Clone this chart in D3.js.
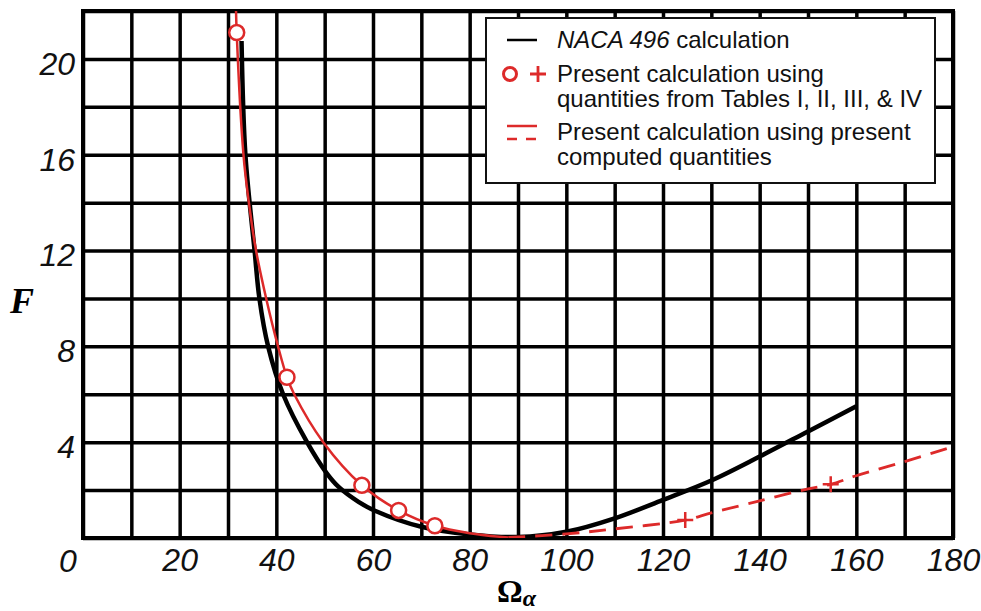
<!DOCTYPE html>
<html>
    <head>
        <meta charset="UTF-8"/>
        <style>
            body { margin: 0; background: #fff; }
            .tick text { font-family: "Liberation Sans", Arial, sans-serif; font-style: italic; }
            .legend text { font-family: "Liberation Sans", Arial, sans-serif; font-size: 24px; fill: #111; }
        </style>
    </head>
    <body>
        <svg width="981" height="611"></svg>
        <script src="https://d3js.org/d3.v7.min.js" type="text/javascript"></script>
        <script>
            // tick values
            let xGrid = d3.range(0, 181, 10);
            let yGrid = d3.range(0, 23, 2);
            let xLabels = [20, 40, 60, 80, 100, 120, 140, 160, 180];
            let yLabels = [4, 8, 12, 16, 20];

            // NACA 496 calculation (black)
            let nacaOmega = [32.8, 33.6, 35.5, 36.5, 38.3, 41.4, 46.35, 50.4, 53, 57, 60.4, 70, 80, 90, 100, 110, 120, 130, 140, 150, 160];
            let nacaF = [20.75, 16, 12, 10, 8, 6, 4, 2.71, 2.11, 1.51, 1.14, 0.47, 0.15, 0.04, 0.26, 0.82, 1.59, 2.4, 3.4, 4.45, 5.5];

            // present calculation, Tables I-IV (red solid)
            let tableOmega = [31.6, 31.8, 33.2, 34.25, 35.8, 37.9, 40.35, 42.2, 43.7, 49.7, 57.7, 65.3, 72.8, 80, 88];
            let tableF = [22.6, 21.1, 16, 14.1, 12, 10, 8, 6.71, 6, 4, 2.2, 1.15, 0.51, 0.2, 0.02];
            let circleOmega = [31.8, 42.2, 57.7, 65.3, 72.8];
            let circleF = [21.1, 6.71, 2.2, 1.15, 0.51];

            // present calculation, computed quantities (red dashed)
            let compOmega = [88, 100, 110, 124.6, 130, 140, 150, 154.7, 160, 170, 180];
            let compF = [0.02, 0.17, 0.38, 0.75, 1.05, 1.55, 2.05, 2.24, 2.6, 3.19, 3.81];
            let plusOmega = [124.6, 154.7];
            let plusF = [0.75, 2.24];

            let red = "#dd2a2a";
            let svg = d3.select("svg");
            let pLeft = 83, pRight = 953, pTop = 11, pBottom = 538;

            let x = d3.scaleLinear().domain([0, 180]).range([pLeft, pRight]);
            let y = d3.scaleLinear().domain([0, 22]).range([pBottom, pTop]);

            // grid
            let gx = svg.append("g")
                .attr("transform", "translate(0," + pBottom + ")")
                .call(d3.axisBottom(x).tickValues(xGrid).tickSize(-(pBottom - pTop)).tickFormat(""));
            let gy = svg.append("g")
                .attr("transform", "translate(" + pLeft + ",0)")
                .call(d3.axisLeft(y).tickValues(yGrid).tickSize(-(pRight - pLeft)).tickFormat(""));
            [gx, gy].forEach(function(g) {
                g.select(".domain").remove();
                g.selectAll("line").attr("stroke", "#000").attr("stroke-width", 3.5);
            });
            svg.append("rect")
                .attr("x", pLeft).attr("y", pTop)
                .attr("width", pRight - pLeft).attr("height", pBottom - pTop)
                .attr("fill", "none").attr("stroke", "#000").attr("stroke-width", 4);

            // tick labels
            let lx = svg.append("g")
                .attr("transform", "translate(0," + pBottom + ")")
                .call(d3.axisBottom(x).tickValues(xLabels).tickSize(0).tickPadding(10));
            let ly = svg.append("g")
                .attr("transform", "translate(" + (pLeft - 8) + ",0)")
                .call(d3.axisLeft(y).tickValues(yLabels).tickSize(0).tickPadding(0));
            [lx, ly].forEach(function(g) {
                g.select(".domain").remove();
                g.selectAll("text").attr("font-size", 32).attr("fill", "#111");
            });
            lx.selectAll("text").attr("dy", "0.72em");
            ly.selectAll("text").attr("dy", "0.48em");
            svg.append("text")
                .attr("x", x(0) - 15).attr("y", 572)
                .attr("text-anchor", "middle")
                .style("font-family", "Liberation Sans").style("font-style", "italic")
                .attr("font-size", 32).attr("fill", "#111")
                .text("0");

            // axis titles
            svg.append("text")
                .attr("x", 22).attr("y", 313)
                .attr("text-anchor", "middle")
                .style("font-family", "Liberation Serif").style("font-style", "italic").style("font-weight", "bold")
                .attr("font-size", 36)
                .text("F");
            let om = svg.append("text")
                .attr("x", 497).attr("y", 602)
                .style("font-family", "Liberation Serif").style("font-weight", "bold")
                .attr("font-size", 32);
            om.append("tspan").text("Ω");
            om.append("tspan").attr("dy", 4).attr("font-size", 24).style("font-style", "italic").text("α");

            // curves
            svg.append("clipPath").attr("id", "plot")
                .append("rect").attr("x", pLeft).attr("y", pTop)
                .attr("width", pRight - pLeft).attr("height", pBottom - pTop);
            let plot = svg.append("g").attr("clip-path", "url(#plot)");
            let line = d3.line()
                .x(function(d) { return x(d[0]); })
                .y(function(d) { return y(d[1]); })
                .curve(d3.curveCatmullRom.alpha(0.5));

            plot.append("path")
                .attr("d", line(d3.zip(nacaOmega, nacaF)))
                .attr("fill", "none").attr("stroke", "#000").attr("stroke-width", 4.5);
            plot.append("path")
                .attr("d", line(d3.zip(compOmega, compF)))
                .attr("fill", "none").attr("stroke", red).attr("stroke-width", 2.8)
                .attr("stroke-dasharray", "17,10");
            plot.append("path")
                .attr("d", line(d3.zip(tableOmega, tableF)))
                .attr("fill", "none").attr("stroke", red).attr("stroke-width", 2.5);

            svg.selectAll(".pt")
                .data(d3.zip(circleOmega, circleF))
                .enter().append("circle")
                .attr("class", "pt")
                .attr("cx", function(d) { return x(d[0]); })
                .attr("cy", function(d) { return y(d[1]); })
                .attr("r", 7.5)
                .attr("fill", "#fff").attr("stroke", red).attr("stroke-width", 2.5);

            svg.selectAll(".plus")
                .data(d3.zip(plusOmega, plusF))
                .enter().append("path")
                .attr("class", "plus")
                .attr("d", function(d) {
                    let cx = x(d[0]), cy = y(d[1]);
                    return "M" + (cx - 8) + "," + cy + "H" + (cx + 8) + "M" + cx + "," + (cy - 8) + "V" + (cy + 8);
                })
                .attr("stroke", red).attr("stroke-width", 2.5);

            // legend
            let lg = svg.append("g").attr("class", "legend");
            lg.append("rect")
                .attr("x", 486).attr("y", 18).attr("width", 449).attr("height", 165)
                .attr("fill", "#fff").attr("stroke", "#111").attr("stroke-width", 2);
            lg.append("line").attr("x1", 507).attr("x2", 537).attr("y1", 40).attr("y2", 40)
                .attr("stroke", "#000").attr("stroke-width", 2.5);
            lg.append("circle").attr("cx", 510).attr("cy", 74).attr("r", 6.5)
                .attr("fill", "none").attr("stroke", red).attr("stroke-width", 3);
            lg.append("path").attr("d", "M530,74H546M538,66V82")
                .attr("stroke", red).attr("stroke-width", 2.8);
            lg.append("line").attr("x1", 507).attr("x2", 537).attr("y1", 126).attr("y2", 126)
                .attr("stroke", red).attr("stroke-width", 2.5);
            lg.append("line").attr("x1", 507).attr("x2", 537).attr("y1", 139).attr("y2", 139)
                .attr("stroke", red).attr("stroke-width", 2.5).attr("stroke-dasharray", "10,9");

            let t1 = lg.append("text").attr("x", 557).attr("y", 48);
            t1.append("tspan").style("font-style", "italic").text("NACA 496");
            t1.append("tspan").text(" calculation");
            lg.append("text").attr("x", 557).attr("y", 82).text("Present calculation using");
            lg.append("text").attr("x", 557).attr("y", 107).text("quantities from Tables I, II, III, & IV");
            lg.append("text").attr("x", 557).attr("y", 140).text("Present calculation using present");
            lg.append("text").attr("x", 557).attr("y", 165).text("computed quantities");
        </script>
    </body>
</html>
